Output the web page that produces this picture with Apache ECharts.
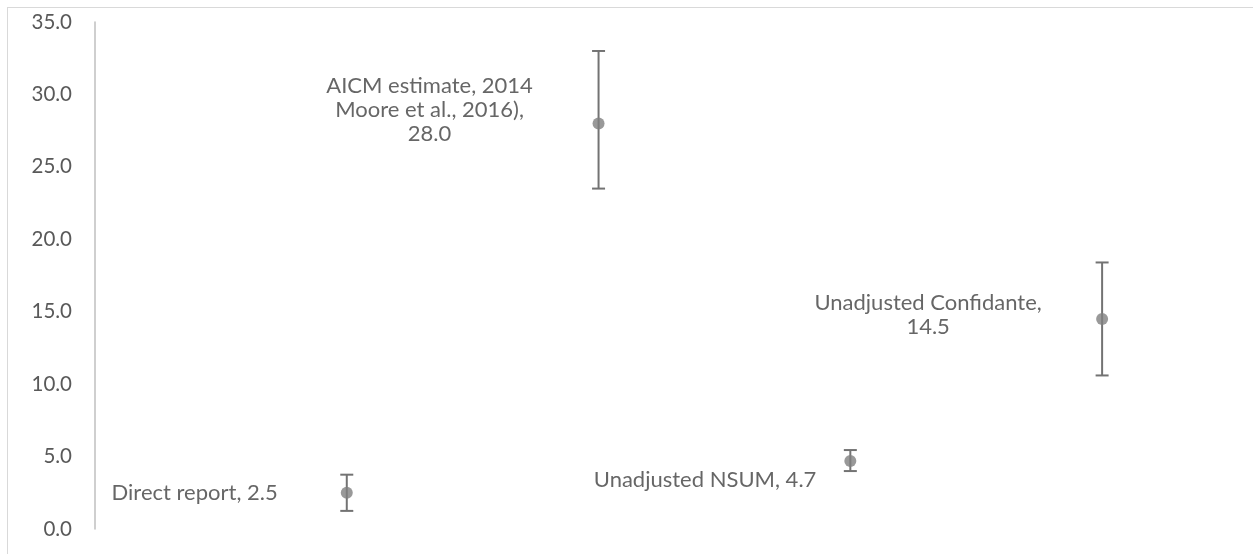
<!DOCTYPE html>
<html>
<head>
<meta charset="utf-8">
<script src="https://cdn.jsdelivr.net/npm/echarts@6/dist/echarts.min.js"></script>
<style>
    html, body { margin: 0; padding: 0; background: #fff; }
    #main { width: 1253px; height: 554px; position: relative; }
    #frame { position: absolute; left: 7px; top: 7px; right: 0; bottom: 0;
             border-left: 1.5px solid #d9d9d9; border-top: 1.5px solid #d9d9d9; pointer-events: none; }
</style>
</head>
<body>
<div id="main"></div>
<div id="frame"></div>
<script>
// 数据
var names = ["Direct report", "AICM estimate, 2014\nMoore et al., 2016)", "Unadjusted NSUM", "Unadjusted Confidante"];
var xPos = [1, 2, 3, 4];
var values = [2.5, 28.0, 4.7, 14.5];
var lowerVals = [1.25, 23.5, 4.0, 10.6];
var upperVals = [3.75, 33.0, 5.45, 18.4];
var yTicks = [0, 5, 10, 15, 20, 25, 30, 35];

// label placement (relative to marker box), styling only
var labelSpots = [
    {position: [-63, 6], align: "right"},
    {position: [-163, -7], align: "center"},
    {position: [-28, 25], align: "right"},
    {position: [-168, 2], align: "center"}
];

var pointData = [];
var errData = [];
values.forEach(function (v, i) {
    var sep = names[i].indexOf("\n") >= 0 || i == 3 ? ",\n" : ", ";
    pointData.push({
        value: [xPos[i], v],
        label: {
            show: true,
            formatter: names[i] + sep + v.toFixed(1),
            position: labelSpots[i].position,
            align: labelSpots[i].align,
            verticalAlign: "middle"
        }
    });
    errData.push([xPos[i], lowerVals[i], upperVals[i]]);
});

var chart = echarts.init(document.getElementById("main"));
var option = {
    animation: false,
    textStyle: {fontFamily: "Lato"},
    grid: {left: 95, right: 25, top: 22, bottom: 25, containLabel: false},
    xAxis: {
        type: "value",
        min: 0,
        max: 4.5,
        show: false
    },
    yAxis: {
        type: "value",
        min: yTicks[0],
        max: yTicks[yTicks.length - 1],
        interval: 5,
        axisLine: {show: true, lineStyle: {color: "#bfbfbf", width: 1.5}},
        axisTick: {show: false},
        splitLine: {show: false},
        axisLabel: {
            color: "#595959",
            fontSize: 20.5,
            margin: 23,
            formatter: function (v) { return v.toFixed(1); }
        }
    },
    series: [
        {
            type: "custom",
            data: errData,
            z: 1,
            renderItem: function (params, api) {
                var top = api.coord([api.value(0), api.value(2)]);
                var bot = api.coord([api.value(0), api.value(1)]);
                var half = 6.5;
                var st = {stroke: "#737373", lineWidth: 2};
                return {
                    type: "group",
                    children: [
                        {type: "line", shape: {x1: top[0], y1: top[1], x2: bot[0], y2: bot[1]}, style: st},
                        {type: "line", shape: {x1: top[0] - half, y1: top[1], x2: top[0] + half, y2: top[1]}, style: st},
                        {type: "line", shape: {x1: bot[0] - half, y1: bot[1], x2: bot[0] + half, y2: bot[1]}, style: st}
                    ]
                };
            }
        },
        {
            type: "scatter",
            data: pointData,
            z: 2,
            symbol: "circle",
            symbolSize: 12,
            itemStyle: {color: "#808080"},
            label: {
                color: "#404040",
                fontSize: 22,
                lineHeight: 24
            }
        }
    ]
};
chart.setOption(option);
</script>
</body>
</html>
